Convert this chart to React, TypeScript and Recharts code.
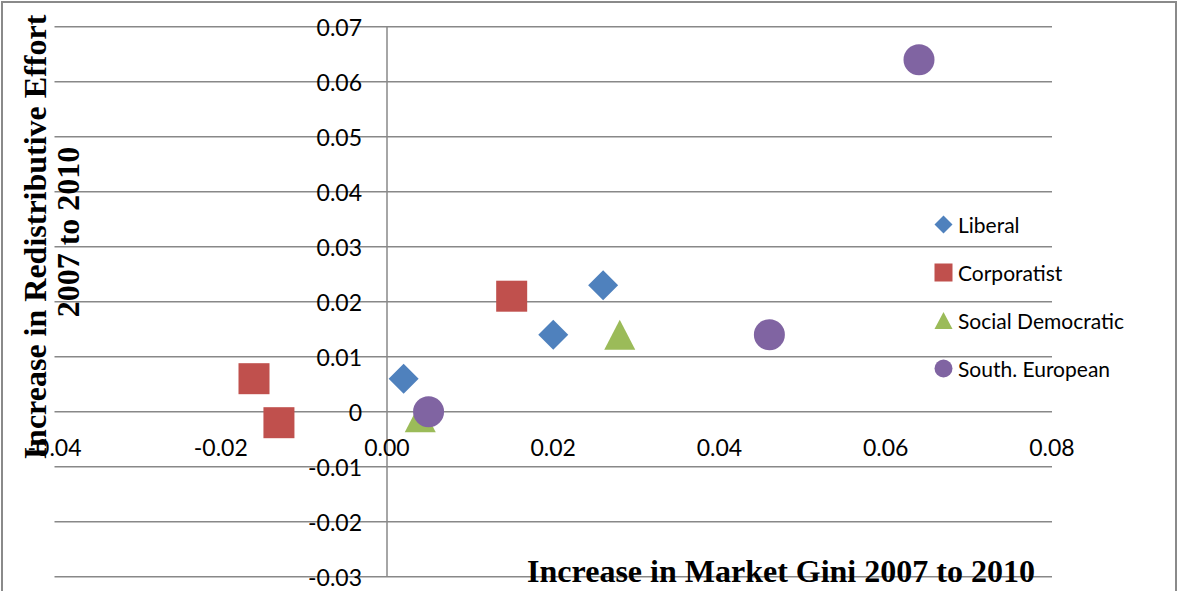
import React from 'react';
import { ScatterChart, Scatter, XAxis, YAxis, CartesianGrid, ReferenceLine, Legend } from 'recharts';

const xTicks = [-0.04, -0.02, 0, 0.02, 0.04, 0.06, 0.08];
const xTickLabels = ['-0.04', '-0.02', '0.00', '0.02', '0.04', '0.06', '0.08'];
const yTicks = [-0.03, -0.02, -0.01, 0, 0.01, 0.02, 0.03, 0.04, 0.05, 0.06, 0.07];
const yTickLabels = ['-0.03', '-0.02', '-0.01', '0', '0.01', '0.02', '0.03', '0.04', '0.05', '0.06', '0.07'];

const seriesNames = ['Liberal', 'Corporatist', 'Social Democratic', 'South. European'];
const seriesColors = ['#4F81BD', '#C0504D', '#9BBB59', '#8064A2'];

const liberalX = [0.002, 0.020, 0.026];
const liberalY = [0.006, 0.014, 0.023];
const corporatistX = [-0.016, -0.013, 0.015];
const corporatistY = [0.006, -0.002, 0.021];
const socialX = [0.004, 0.028];
const socialY = [-0.001, 0.014];
const southX = [0.005, 0.046, 0.064];
const southY = [0.0, 0.014, 0.064];

const toPoints = (xs: number[], ys: number[]) => xs.map((x, i) => ({ x, y: ys[i] }));

const W = 1177;
const H = 591;
const AXW = 1;
const PL = 54.5, PR = 1052, PT = 26.7, PB = 576.7;
const M = { top: PT, left: PL - AXW, right: W - PR, bottom: H - PB - AXW };
const X_MIN = -0.04, X_MAX = 0.08, Y_MIN = -0.03, Y_MAX = 0.07;
const zeroX = PL + ((0 - X_MIN) / (X_MAX - X_MIN)) * (PR - PL);
const zeroY = PT + ((Y_MAX - 0) / (Y_MAX - Y_MIN)) * (PB - PT);

const TICK_FONT = 'Lato, "Open Sans", sans-serif';

const labelFor = (ticks: number[], labels: string[], v: number) => {
  const idx = ticks.findIndex((t) => Math.abs(t - v) < 1e-9);
  return idx >= 0 ? labels[idx] : '';
};

const renderXTick = (props: any) => {
  const { x, payload } = props;
  return (
    <text x={x} y={zeroY + 35} textAnchor="middle" dominantBaseline="central" fontFamily={TICK_FONT} fontSize={23} fill="#000">
      {labelFor(xTicks, xTickLabels, payload.value)}
    </text>
  );
};

const renderYTick = (props: any) => {
  const { y, payload } = props;
  return (
    <text x={zeroX - 25} y={y} textAnchor="end" dominantBaseline="central" fontFamily={TICK_FONT} fontSize={23} fill="#000">
      {labelFor(yTicks, yTickLabels, payload.value)}
    </text>
  );
};

const Diamond = (p: any) => {
  const { cx, cy } = p;
  const r = 15;
  return <path d={`M${cx},${cy - r}L${cx + r},${cy}L${cx},${cy + r}L${cx - r},${cy}Z`} fill={seriesColors[0]} />;
};
const Square = (p: any) => {
  const { cx, cy } = p;
  const r = 15.5;
  return <rect x={cx - r} y={cy - r} width={2 * r} height={2 * r} fill={seriesColors[1]} />;
};
const Triangle = (p: any) => {
  const { cx, cy } = p;
  return <path d={`M${cx},${cy - 15}L${cx + 15.5},${cy + 15}L${cx - 15.5},${cy + 15}Z`} fill={seriesColors[2]} />;
};
const Circle = (p: any) => {
  const { cx, cy } = p;
  return <circle cx={cx} cy={cy} r={15.5} fill={seriesColors[3]} />;
};

const LegendIcon = ({ i }: { i: number }) => {
  const c = seriesColors[i];
  return (
    <svg width={19} height={19} style={{ display: 'block' }}>
      {i === 0 && <path d="M9.5,0.5L18.5,9.5L9.5,18.5L0.5,9.5Z" fill={c} />}
      {i === 1 && <rect x={0.5} y={0.5} width={18} height={18} fill={c} />}
      {i === 2 && <path d="M9.5,1L18.5,18L0.5,18Z" fill={c} />}
      {i === 3 && <circle cx={9.5} cy={9.5} r={9} fill={c} />}
    </svg>
  );
};

const LegendContent = () => (
  <div style={{ fontFamily: TICK_FONT, fontSize: 21, color: '#000' }}>
    {seriesNames.map((n, i) => (
      <div key={n} style={{ display: 'flex', alignItems: 'center', height: 48 }}>
        <LegendIcon i={i} />
        <span style={{ marginLeft: 5, whiteSpace: 'nowrap' }}>{n}</span>
      </div>
    ))}
  </div>
);

export default function App() {
  return (
    <div style={{ position: 'fixed', left: 0, top: 0, width: W, height: H, background: '#fff', overflow: 'hidden' }}>
      <ScatterChart width={W} height={H} margin={M}>
        <CartesianGrid horizontal vertical={false} stroke="#888" strokeWidth={1.5} />
        <XAxis
          type="number"
          dataKey="x"
          domain={[X_MIN, X_MAX]}
          ticks={xTicks}
          height={AXW}
          axisLine={false}
          tickLine={false}
          tick={renderXTick}
          interval={0}
          allowDataOverflow
        />
        <YAxis
          type="number"
          dataKey="y"
          domain={[Y_MIN, Y_MAX]}
          ticks={yTicks}
          width={AXW}
          axisLine={false}
          tickLine={false}
          tick={renderYTick}
          interval={0}
          allowDataOverflow
        />
        <ReferenceLine x={0} stroke="#888" strokeWidth={1.5} />
        <Legend
          layout="vertical"
          align="center"
          verticalAlign="middle"
          content={<LegendContent />}
          wrapperStyle={{ left: 934, top: 200, width: 'auto' }}
        />
        <Scatter name={seriesNames[0]} data={toPoints(liberalX, liberalY)} shape={<Diamond />} isAnimationActive={false} />
        <Scatter name={seriesNames[1]} data={toPoints(corporatistX, corporatistY)} shape={<Square />} isAnimationActive={false} />
        <Scatter name={seriesNames[2]} data={toPoints(socialX, socialY)} shape={<Triangle />} isAnimationActive={false} />
        <Scatter name={seriesNames[3]} data={toPoints(southX, southY)} shape={<Circle />} isAnimationActive={false} />
      </ScatterChart>
      <svg width={W} height={H} style={{ position: 'absolute', left: 0, top: 0, pointerEvents: 'none' }}>
        <g fontFamily='"Liberation Serif", "Times New Roman", serif' fontWeight="bold" fontSize={32} fill="#000">
          <text x={45.5} y={237} transform="rotate(-90 45.5 237)" textAnchor="middle">Increase in Redistributive Effort</text>
          <text x={78.5} y={232} transform="rotate(-90 78.5 232)" textAnchor="middle">2007 to 2010</text>
          <text x={781} y={582} textAnchor="middle">Increase in Market Gini 2007 to 2010</text>
        </g>
      </svg>
      <div style={{ position: 'absolute', left: 1, top: 1, width: 1176, height: 640, border: '2px solid #8a8a8a', boxSizing: 'border-box', pointerEvents: 'none' }} />
    </div>
  );
}
